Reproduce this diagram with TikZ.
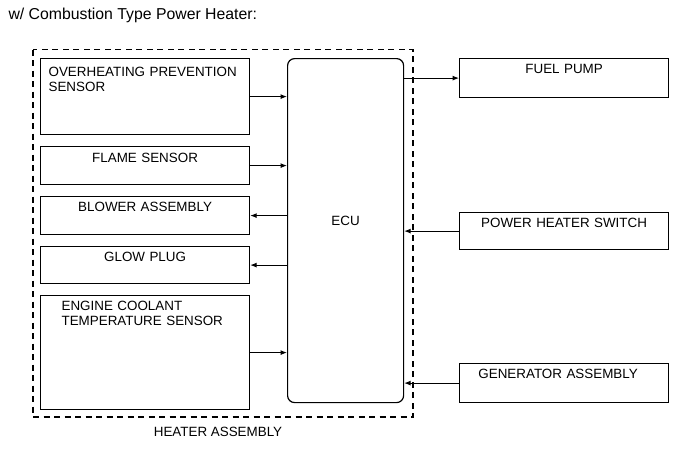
\documentclass[tikz,border=0pt]{standalone}
\usepackage{fontspec}
\setmainfont{Liberation Sans}
\usepackage{tikz}
\usetikzlibrary{arrows.meta}
\tikzstyle{part} = [rectangle, draw=black, line width=1.2pt, anchor=north west, inner sep=0pt, text width=209pt, align=center, text height=16pt]
\tikzstyle{leftpart} = [part, inner xsep=0pt, align=left]
\tikzstyle{ecubox} = [rectangle, rounded corners=7pt, draw=black, line width=1.2pt, anchor=north west, inner sep=0pt, text width=116pt, align=center, text height=167pt, text depth=177pt]
\tikzstyle{arrow} = [line width=1pt,-{Latex[length=6.5pt,width=5pt]}]
\tikzstyle{housing} = [line width=1.1pt, dash pattern=on 6pt off 4.5pt]

\begin{document}
\begin{tikzpicture}[x=1pt,y=-1pt,font=\fontsize{13.4}{15}\selectfont]
	\useasboundingbox (0,0) rectangle (691,467);
	\node (title) [anchor=base west, font=\fontsize{15.8}{18}\selectfont] at (5,19.5) {w/ Combustion Type Power Heater:};

	\node (ovheat) [leftpart, text height=18pt, text depth=58pt] at (40,58) {\hspace*{8pt}OVERHEATING PREVENTION\\\hspace*{8pt}SENSOR};
	\node (flame) [part, text depth=22pt] at (40,146) {FLAME SENSOR};
	\node (blower) [part, text height=15pt, text depth=23pt] at (40,196) {BLOWER ASSEMBLY};
	\node (glow) [part, text height=15pt, text depth=22pt] at (40,246) {GLOW PLUG};
	\node (coolant) [leftpart, text height=15pt, text depth=99pt] at (40,295) {\hspace*{21pt}ENGINE COOLANT\\\hspace*{21pt}TEMPERATURE SENSOR};
	\node (ecu) [ecubox] at (287,58) {ECU};

	\node (fuel) [part, text height=15pt, text depth=24pt] at (459,58) {FUEL PUMP};
	\node (switch) [part, text height=15pt, text depth=22pt] at (459,212) {POWER HEATER SWITCH};
	\node (generator) [part, text height=15pt, text depth=24pt] at (459,363) {\hspace*{-12pt}GENERATOR ASSEMBLY};

	% heater assembly outline
	\coordinate (hnw) at (33,49.5);
	\coordinate (hse) at (413,417);
	\draw [housing] (hnw) rectangle (hse);
	\node (heater) [anchor=base] at (218,436) {HEATER ASSEMBLY};

	\draw [arrow] (ovheat.east) -- (ovheat.east -| ecu.west);
	\draw [arrow] (flame.east) -- (flame.east -| ecu.west);
	\draw [arrow] (ecu.west |- blower.east) -- (blower.east);
	\draw [arrow] (ecu.west |- glow.east) -- (glow.east);
	\draw [arrow] (coolant.east) -- (coolant.east -| ecu.west);
	\draw [arrow] (ecu.east |- fuel.west) -- (fuel.west);
	\draw [arrow] (switch.west) -- (switch.west -| ecu.east);
	\draw [arrow] (generator.west) -- (generator.west -| ecu.east);
\end{tikzpicture}
\end{document}
